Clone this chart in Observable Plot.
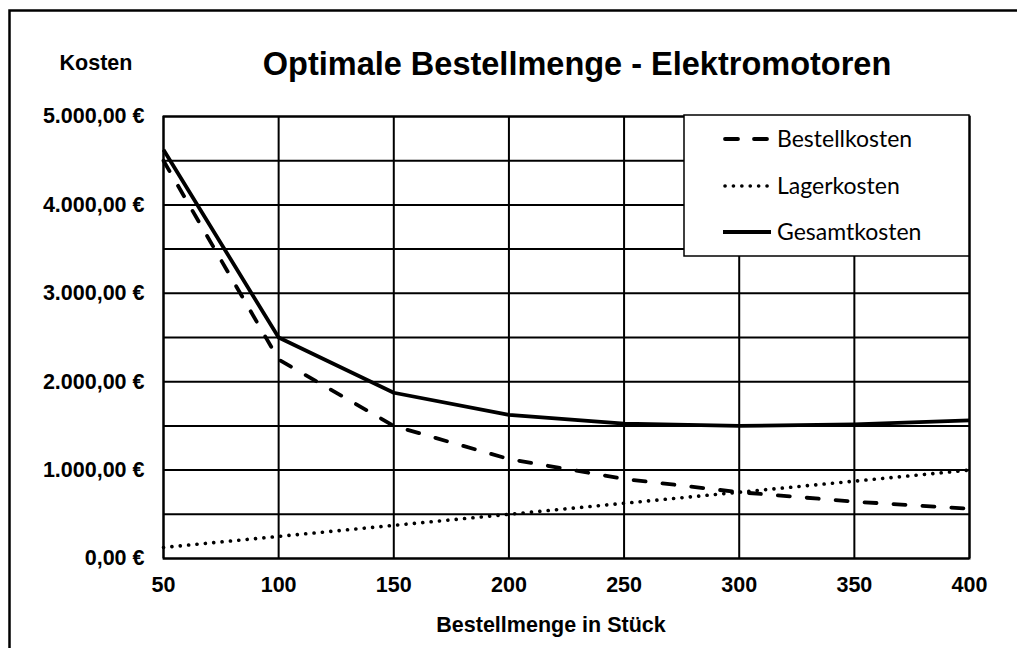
<!DOCTYPE html>
<html>
<head>
<meta charset="utf-8">
<script src="https://cdn.jsdelivr.net/npm/d3@7"></script>
<script src="https://cdn.jsdelivr.net/npm/@observablehq/plot@0.6"></script>
<style>
  html, body { margin: 0; padding: 0; background: #fff; }
  #chart { width: 1017px; height: 648px; overflow: hidden; }
</style>
</head>
<body>
<div id="chart"></div>
<script>
const title = "Optimale Bestellmenge - Elektromotoren";
const yTitle = "Kosten";
const xTitle = "Bestellmenge in Stück";
const mengen = [50, 100, 150, 200, 250, 300, 350, 400];
const bestellkosten = [4500, 2250, 1500, 1125, 900, 750, 643, 563];
const lagerkosten = [125, 250, 375, 500, 625, 750, 875, 1000];
const gesamtkosten = [4625, 2500, 1875, 1625, 1525, 1500, 1518, 1563];
const seriesNames = ["Bestellkosten", "Lagerkosten", "Gesamtkosten"];
const yTicks = [0, 1000, 2000, 3000, 4000, 5000];
const yGrid = [0, 500, 1000, 1500, 2000, 2500, 3000, 3500, 4000, 4500, 5000];

const de = d3.formatLocale({decimal: ",", thousands: ".", grouping: [3], currency: ["", " €"]});
const fmt = de.format("$,.2f");

const styles = {
  Bestellkosten: {strokeWidth: 3.8, strokeDasharray: "12,17", strokeLinecap: "round", legendDash: "13,16"},
  Lagerkosten: {strokeWidth: 3.6, strokeDasharray: "0.1,8.3", strokeLinecap: "round", legendDash: "0.1,8.3"},
  Gesamtkosten: {strokeWidth: 3.8, strokeDasharray: null, strokeLinecap: "butt", legendDash: null}
};
const values = {Bestellkosten: bestellkosten, Lagerkosten: lagerkosten, Gesamtkosten: gesamtkosten};
const rows = name => mengen.map((m, i) => ({menge: m, kosten: values[name][i]}));

const lineMarks = seriesNames.map(name => Plot.line(rows(name), {
  x: "menge", y: "kosten", stroke: "black",
  strokeWidth: styles[name].strokeWidth,
  strokeDasharray: styles[name].strokeDasharray,
  strokeLinecap: styles[name].strokeLinecap,
  strokeLinejoin: "round"
}));

const W = 1017, H = 648;
const svg = Plot.plot({
  width: W, height: H,
  marginLeft: 163, marginRight: 48, marginTop: 116, marginBottom: 90,
  style: {fontFamily: "'Liberation Sans', Arial, sans-serif", fontSize: "21.5px", fontWeight: "bold", color: "black", background: "white", overflow: "visible"},
  x: {domain: [50, 400], label: null},
  y: {domain: [0, 5000], label: null},
  marks: [
    Plot.gridY(yGrid, {stroke: "black", strokeOpacity: 1, strokeWidth: 2}),
    Plot.gridX(mengen, {stroke: "black", strokeOpacity: 1, strokeWidth: 2}),
    Plot.frame({stroke: "black", strokeWidth: 2}),
    Plot.axisY(yTicks, {tickSize: 0, tickPadding: 19, tickFormat: fmt, label: null, fontSize: 21.5}),
    Plot.axisX(mengen, {tickSize: 0, tickPadding: 18, tickFormat: d => String(d), label: null, fontSize: 21.5}),
    ...lineMarks
  ]
});

const s = d3.select(svg);
// outer border (chart area frame)
s.append("rect").attr("x", 9.5).attr("y", 10.5).attr("width", 1200).attr("height", 1000)
  .attr("fill", "none").attr("stroke", "black").attr("stroke-width", 2.5);

s.append("text").attr("x", 577).attr("y", 75).attr("text-anchor", "middle")
  .style("font-size", "32.5px").style("font-weight", "bold").text(title);
s.append("text").attr("x", 96).attr("y", 70).attr("text-anchor", "middle")
  .style("font-size", "21.5px").style("font-weight", "bold").text(yTitle);
s.append("text").attr("x", 551).attr("y", 632).attr("text-anchor", "middle")
  .style("font-size", "21.5px").style("font-weight", "bold").text(xTitle);

// legend
const lg = s.append("g");
lg.append("rect").attr("x", 684).attr("y", 115).attr("width", 285).attr("height", 141)
  .attr("fill", "white").attr("stroke", "black").attr("stroke-width", 1.5);
const rowY = [139, 186, 232];
seriesNames.forEach((name, i) => {
  const st = styles[name];
  const round = st.strokeLinecap === "round";
  lg.append("line").attr("x1", round ? 725 : 723).attr("x2", round ? 769 : 771).attr("y1", rowY[i]).attr("y2", rowY[i])
    .attr("stroke", "black").attr("stroke-width", st.strokeWidth)
    .attr("stroke-dasharray", st.legendDash)
    .attr("stroke-linecap", st.strokeLinecap);
  lg.append("text").attr("x", 777).attr("y", rowY[i]).attr("dy", "0.35em")
    .attr("text-anchor", "start")
    .style("font-family", "Lato, 'Open Sans', sans-serif").style("font-weight", "normal").style("font-size", "23px")
    .text(name);
});

document.getElementById("chart").appendChild(svg);
</script>
</body>
</html>
